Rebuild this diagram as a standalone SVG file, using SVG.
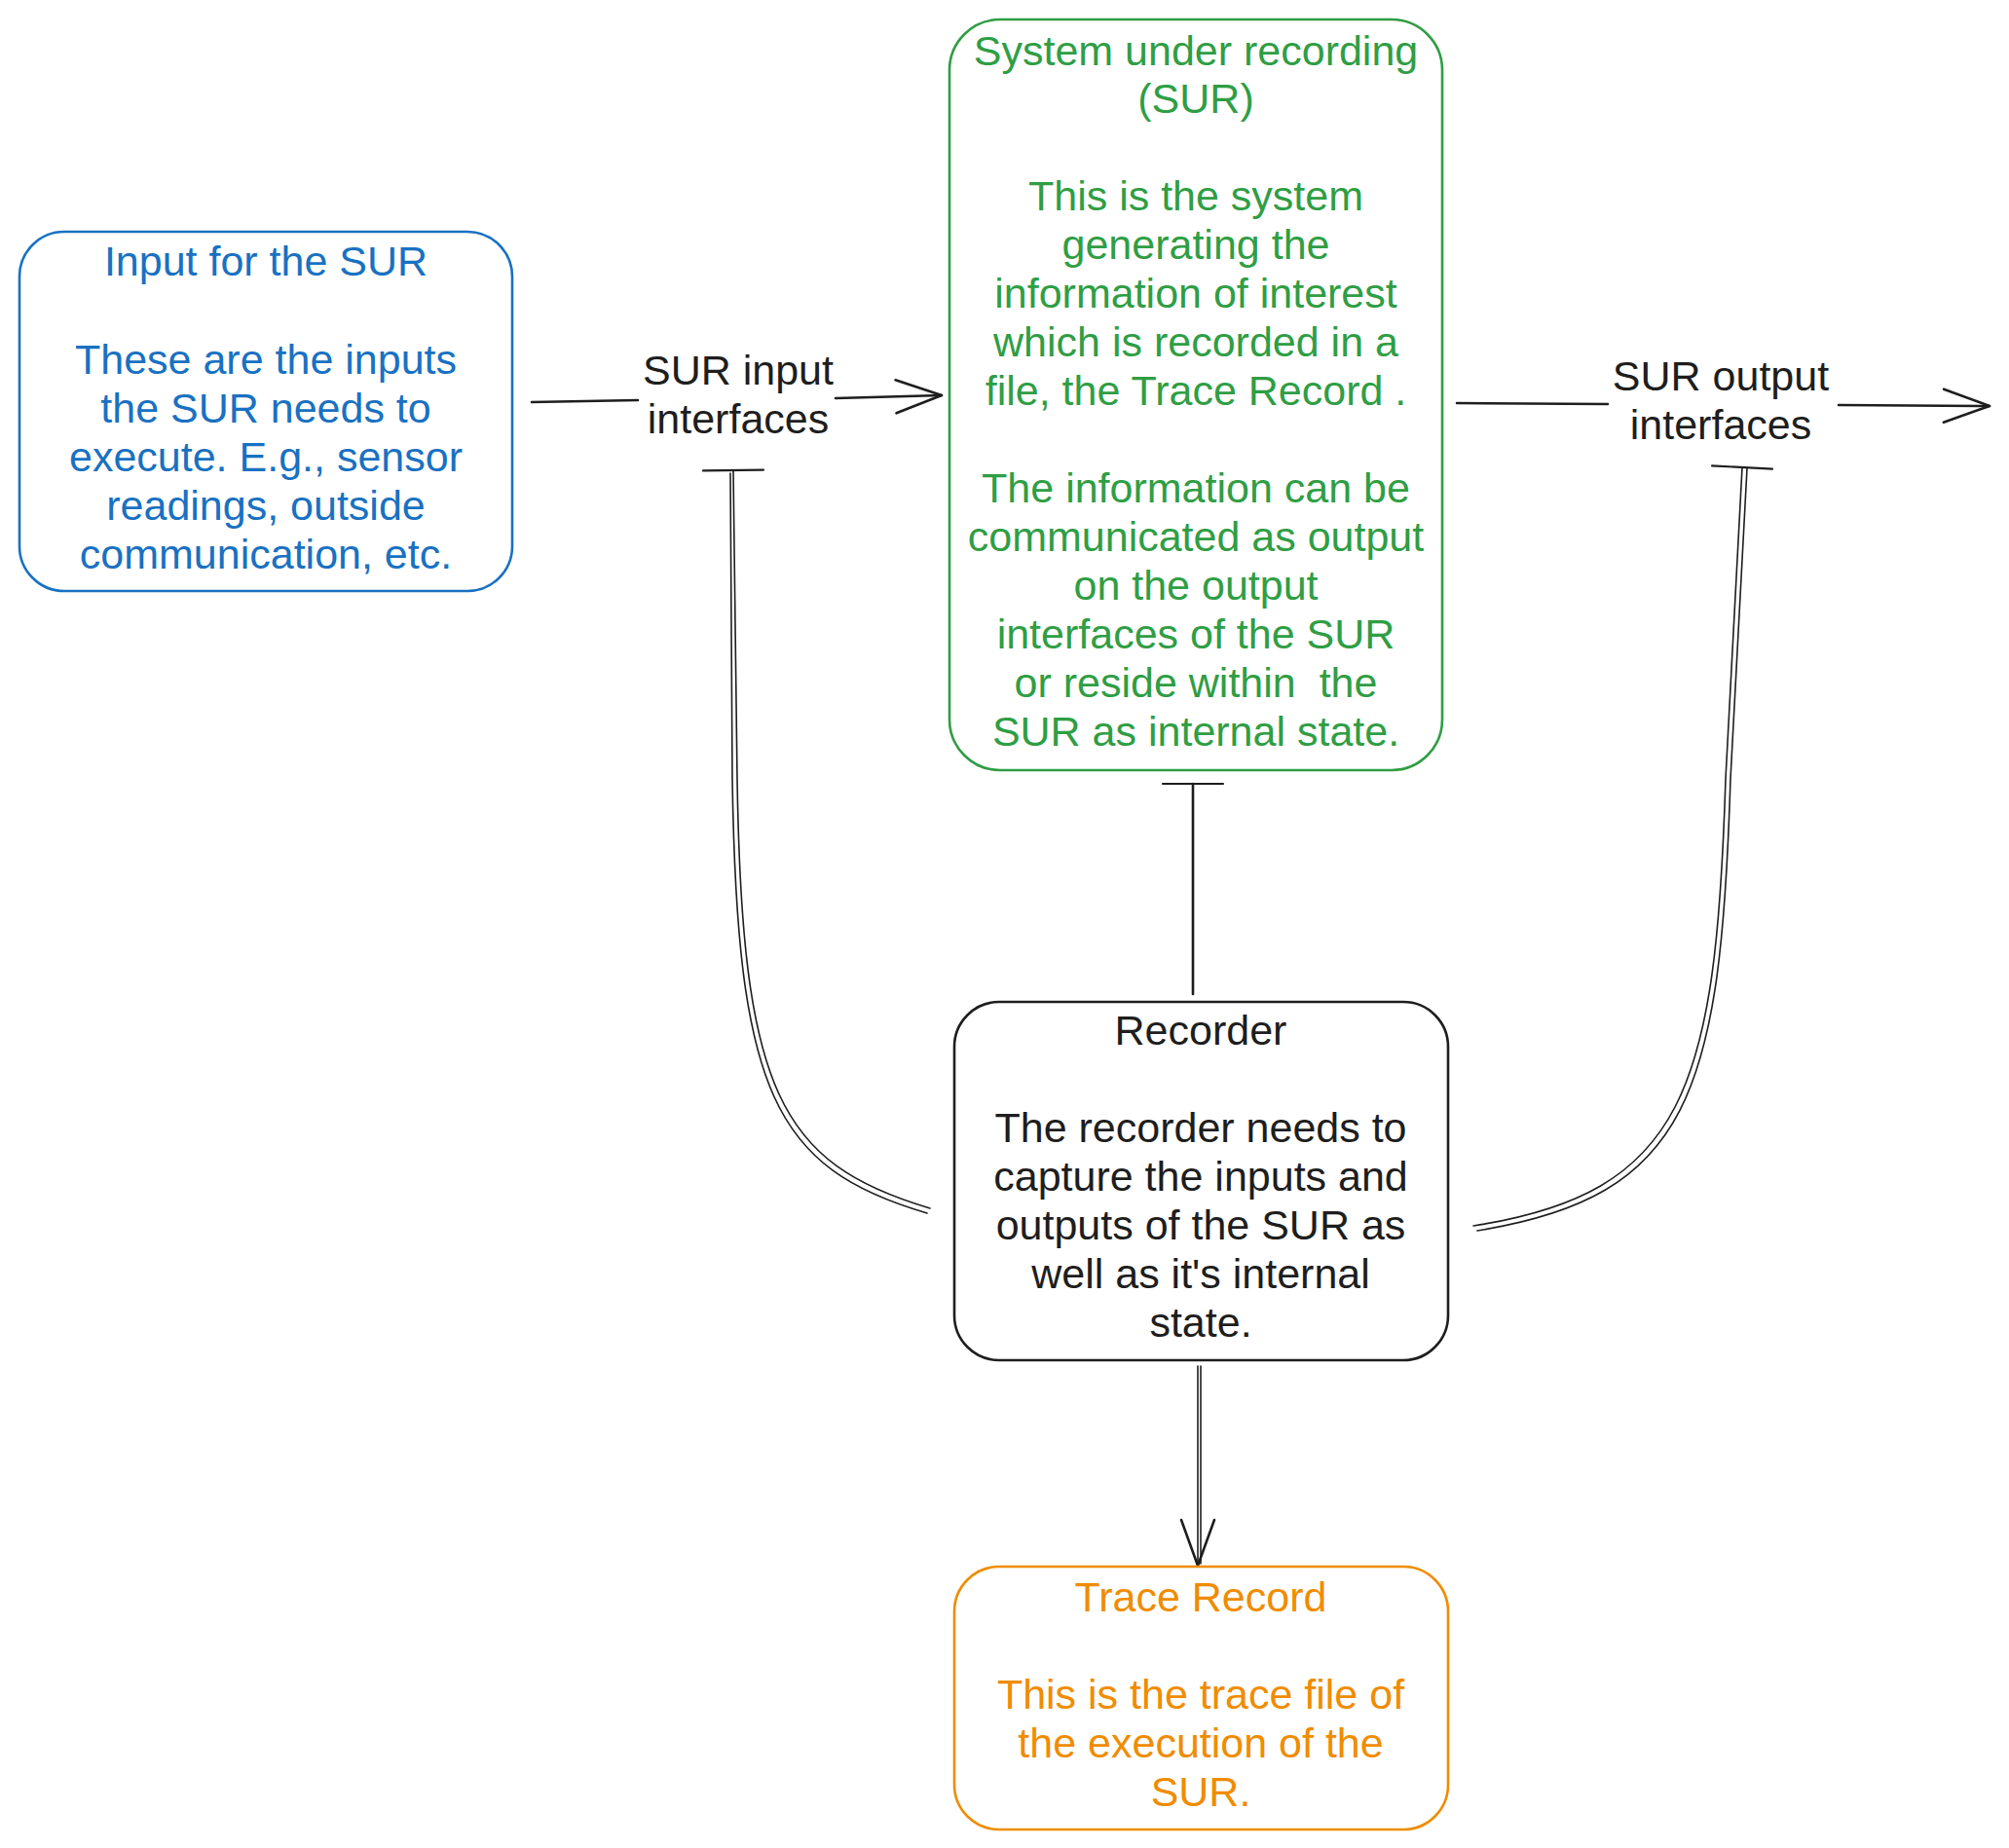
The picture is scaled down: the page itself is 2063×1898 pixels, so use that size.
<svg xmlns="http://www.w3.org/2000/svg" width="2063" height="1898" viewBox="0 0 2063 1898">
  <style>
    text { font-family: "Liberation Sans", Arial, sans-serif; font-size: 43px; text-anchor: middle; }
    .box { fill: none; stroke-width: 2.6; }
    .blue { fill: #1971c2; }
    .green { fill: #2f9e44; }
    .orange { fill: #f08c00; }
    .ink { fill: #1e1e1e; }
    .wire { fill: none; stroke: #1e1e1e; stroke-width: 2.6; stroke-linecap: round; stroke-linejoin: round; }
    .thin { fill: none; stroke: #1e1e1e; stroke-width: 1.6; stroke-linecap: round; }
  </style>
  <defs>
    <marker id="open-arrow" markerUnits="userSpaceOnUse" markerWidth="60" markerHeight="60" refX="0" refY="0" orient="auto" overflow="visible">
      <path d="M -47 -17 L 0 0 L -47 17" fill="none" stroke="#1e1e1e" stroke-width="2.6" stroke-linecap="round" stroke-linejoin="round"/>
    </marker>
    <marker id="tee" markerUnits="userSpaceOnUse" markerWidth="70" markerHeight="70" refX="0" refY="0" orient="auto" overflow="visible">
      <path d="M 0 -31 L 0 31" fill="none" stroke="#1e1e1e" stroke-width="2.2" stroke-linecap="round"/>
    </marker>
  </defs>

  <rect width="2063" height="1898" fill="#ffffff"/>

  <!-- connectors -->
  <g id="connectors">
    <!-- input -> SUR, split around its label -->
    <path class="wire" d="M 546 413 L 655 411"/>
    <path class="wire" d="M 858 409 L 967 406" marker-end="url(#open-arrow)"/>
    <!-- SUR -> outputs, split around its label -->
    <path class="wire" d="M 1496 414 L 1651 415"/>
    <path class="wire" d="M 1888 416 L 2043 417" marker-end="url(#open-arrow)"/>
    <!-- recorder taps the input interfaces -->
    <path class="thin" d="M 955 1241 C 800 1195, 762 1120, 757 800 L 753 483" marker-end="url(#tee)"/>
    <path class="thin" d="M 952 1246 C 795 1200, 757 1122, 752 800 L 750 486"/>
    <!-- recorder taps the output interfaces -->
    <path class="thin" d="M 1513 1259 C 1730 1225, 1762 1120, 1772 800 L 1789 480" marker-end="url(#tee)"/>
    <path class="thin" d="M 1517 1264 C 1735 1229, 1767 1124, 1777 800 L 1794 481"/>
    <!-- recorder taps the SUR internal state -->
    <path class="wire" d="M 1225 1021 L 1225 805" marker-end="url(#tee)"/>
    <!-- recorder writes the trace record -->
    <path class="thin" d="M 1230 1403 L 1230 1608" marker-end="url(#open-arrow)"/>
    <path class="thin" d="M 1233 1403 L 1233 1606"/>
  </g>

  <!-- edge labels -->
  <g id="label-input">
    <text class="ink" x="758" y="395">SUR input</text>
    <text class="ink" x="758" y="445">interfaces</text>
  </g>
  <g id="label-output">
    <text class="ink" x="1767" y="401">SUR output</text>
    <text class="ink" x="1767" y="451">interfaces</text>
  </g>

  <g id="node-input">
    <rect class="box" x="20" y="238" width="506" height="369" rx="46" stroke="#1971c2"/>
    <text class="blue" x="273" y="283">Input for the SUR</text>
    <text class="blue" x="273" y="384">These are the inputs</text>
    <text class="blue" x="273" y="434">the SUR needs to</text>
    <text class="blue" x="273" y="484">execute. E.g., sensor</text>
    <text class="blue" x="273" y="534">readings, outside</text>
    <text class="blue" x="273" y="584">communication, etc.</text>
  </g>

  <g id="node-sur">
    <rect class="box" x="975" y="20" width="506" height="771" rx="52" stroke="#2f9e44"/>
    <text class="green" x="1228" y="67">System under recording</text>
    <text class="green" x="1228" y="116">(SUR)</text>
    <text class="green" x="1228" y="216">This is the system</text>
    <text class="green" x="1228" y="266">generating the</text>
    <text class="green" x="1228" y="316">information of interest</text>
    <text class="green" x="1228" y="366">which is recorded in a</text>
    <text class="green" x="1228" y="416">file, the Trace Record .</text>
    <text class="green" x="1228" y="516">The information can be</text>
    <text class="green" x="1228" y="566">communicated as output</text>
    <text class="green" x="1228" y="616">on the output</text>
    <text class="green" x="1228" y="666">interfaces of the SUR</text>
    <text class="green" x="1228" y="716" xml:space="preserve">or reside within  the</text>
    <text class="green" x="1228" y="766">SUR as internal state.</text>
  </g>

  <g id="node-recorder">
    <rect class="box" x="980" y="1029" width="507" height="368" rx="46" stroke="#1e1e1e"/>
    <text class="ink" x="1233" y="1073">Recorder</text>
    <text class="ink" x="1233" y="1173">The recorder needs to</text>
    <text class="ink" x="1233" y="1223">capture the inputs and</text>
    <text class="ink" x="1233" y="1273">outputs of the SUR as</text>
    <text class="ink" x="1233" y="1323">well as it's internal</text>
    <text class="ink" x="1233" y="1373">state.</text>
  </g>

  <g id="node-trace">
    <rect class="box" x="980" y="1609" width="507" height="270" rx="46" stroke="#f08c00"/>
    <text class="orange" x="1233" y="1655">Trace Record</text>
    <text class="orange" x="1233" y="1755">This is the trace file of</text>
    <text class="orange" x="1233" y="1805">the execution of the</text>
    <text class="orange" x="1233" y="1855">SUR.</text>
  </g>
</svg>
